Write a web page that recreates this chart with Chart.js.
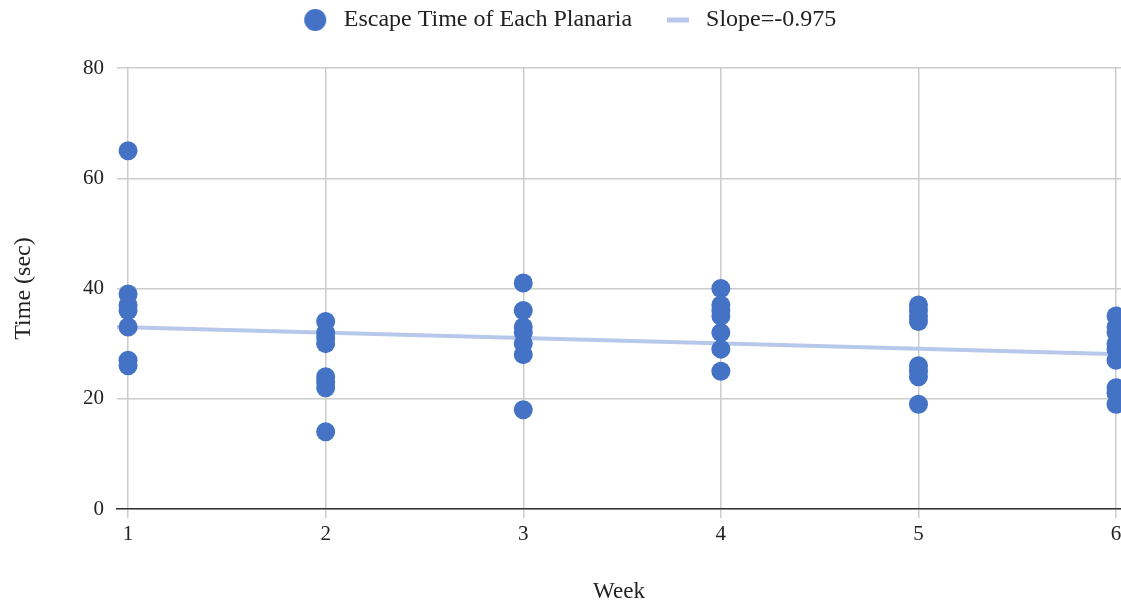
<!DOCTYPE html>
<html>
<head>
<meta charset="utf-8">
<script src="https://cdn.jsdelivr.net/npm/chart.js@4/dist/chart.umd.min.js"></script>
<style>
  html, body { margin: 0; padding: 0; background: #ffffff; }
  #wrap { width: 1121px; height: 608px; }
</style>
</head>
<body>
<div id="wrap"><canvas id="c" width="1121" height="608"></canvas></div>
<script>
// ---- data ----
const weeks = [1, 2, 3, 4, 5, 6];
const week1Times = [65, 39, 37, 36, 33, 27, 26];
const week2Times = [34, 32, 31, 30, 24, 23, 22, 14];
const week3Times = [41, 36, 33, 32, 30, 28, 18];
const week4Times = [40, 37, 36, 35, 32, 29, 25];
const week5Times = [37, 36, 35, 34, 26, 25, 24, 19];
const week6Times = [35, 33, 32, 30, 29, 27, 22, 21, 19];
const trendSlope = -0.975;
const trendIntercept = 33.95;
const yTicks = [0, 20, 40, 60, 80];
const seriesLabel = 'Escape Time of Each Planaria';
const trendLabel = 'Slope=-0.975';
const xTitle = 'Week';
const yTitle = 'Time (sec)';

const xMin = 0.944, xMax = 6.025;

const allTimes = [week1Times, week2Times, week3Times, week4Times, week5Times, week6Times];
const points = [];
allTimes.forEach((arr, i) => arr.forEach(v => points.push({ x: weeks[i], y: v })));
const trendPoints = [xMin, xMax].map(x => ({ x: x, y: trendIntercept + trendSlope * x }));

const FONT = 'Liberation Serif, Times New Roman, serif';
const TXT = '#222222';
const POINT_COLOR = '#4472c4';
const TREND_COLOR = '#b7c8eb';
const GRID = '#cccccc';

// legend marker images
function circleMarker() {
  const c = document.createElement('canvas');
  c.width = 24; c.height = 24;
  const g = c.getContext('2d');
  g.fillStyle = POINT_COLOR;
  g.beginPath(); g.arc(12, 12, 11, 0, Math.PI * 2); g.fill();
  return c;
}
function lineMarker() {
  const c = document.createElement('canvas');
  c.width = 22; c.height = 6;
  const g = c.getContext('2d');
  g.fillStyle = TREND_COLOR;
  g.fillRect(0, 0.5, 22, 5);
  return c;
}
const markers = [circleMarker(), lineMarker()];

// nudge the legend box into the reference position
const legendShift = {
  id: 'legendShift',
  afterLayout(chart) {
    const lg = chart.legend;
    if (!lg) return;
    lg.top -= 26; lg.bottom -= 26;
    lg.left += 7; lg.right += 7;
  }
};

new Chart(document.getElementById('c'), {
  plugins: [legendShift],
  data: {
    datasets: [
      {
        type: 'scatter',
        label: seriesLabel,
        data: points,
        backgroundColor: POINT_COLOR,
        borderColor: POINT_COLOR,
        pointRadius: 9.5,
        pointHoverRadius: 9.5,
        borderWidth: 0,
        order: 0
      },
      {
        type: 'line',
        label: trendLabel,
        data: trendPoints,
        borderColor: TREND_COLOR,
        backgroundColor: TREND_COLOR,
        borderWidth: 4,
        pointRadius: 0,
        fill: false,
        order: 1
      }
    ]
  },
  options: {
    responsive: false,
    animation: false,
    layout: { autoPadding: false, padding: { top: 0, left: 0, right: 0, bottom: 0 } },
    plugins: {
      tooltip: { enabled: false },
      legend: {
        position: 'top',
        align: 'center',
        labels: {
          font: { family: FONT, size: 24 },
          color: TXT,
          usePointStyle: true,
          pointStyleWidth: 33,
          boxHeight: 22,
          padding: 29,
          generateLabels: function (chart) {
            return chart.data.datasets.map((ds, i) => ({
              text: ds.label,
              datasetIndex: i,
              fillStyle: i === 0 ? POINT_COLOR : TREND_COLOR,
              strokeStyle: i === 0 ? POINT_COLOR : TREND_COLOR,
              lineWidth: 0,
              pointStyle: markers[i],
              fontColor: TXT,
              hidden: false
            }));
          }
        }
      }
    },
    scales: {
      x: {
        type: 'linear',
        position: 'bottom',
        min: xMin,
        max: xMax,
        afterBuildTicks: s => { s.ticks = weeks.map(v => ({ value: v })); },
        afterFit: s => { s.height = 99; s.paddingLeft = 0; s.paddingRight = 0; },
        ticks: {
          font: { family: FONT, size: 21 },
          color: TXT,
          padding: 4
        },
        grid: {
          color: GRID,
          lineWidth: 1.5,
          drawTicks: true,
          tickLength: 9,
          tickColor: GRID
        },
        border: { display: true, color: '#333333', width: 1.5 },
        title: {
          display: true,
          text: xTitle,
          font: { family: FONT, size: 23 },
          color: TXT,
          padding: { top: 0, bottom: 2 }
        }
      },
      y: {
        type: 'linear',
        min: 0,
        max: 80,
        afterBuildTicks: s => { s.ticks = yTicks.map(v => ({ value: v })); },
        afterFit: s => { s.width = 117; s.paddingTop = 68; },
        ticks: {
          font: { family: FONT, size: 21 },
          color: TXT,
          padding: 13
        },
        grid: {
          color: GRID,
          lineWidth: 1.5,
          drawTicks: false
        },
        border: { display: false },
        title: {
          display: true,
          text: yTitle,
          font: { family: FONT, size: 24 },
          color: TXT,
          padding: { top: 9, bottom: 0 }
        }
      }
    }
  }
});
</script>
</body>
</html>
